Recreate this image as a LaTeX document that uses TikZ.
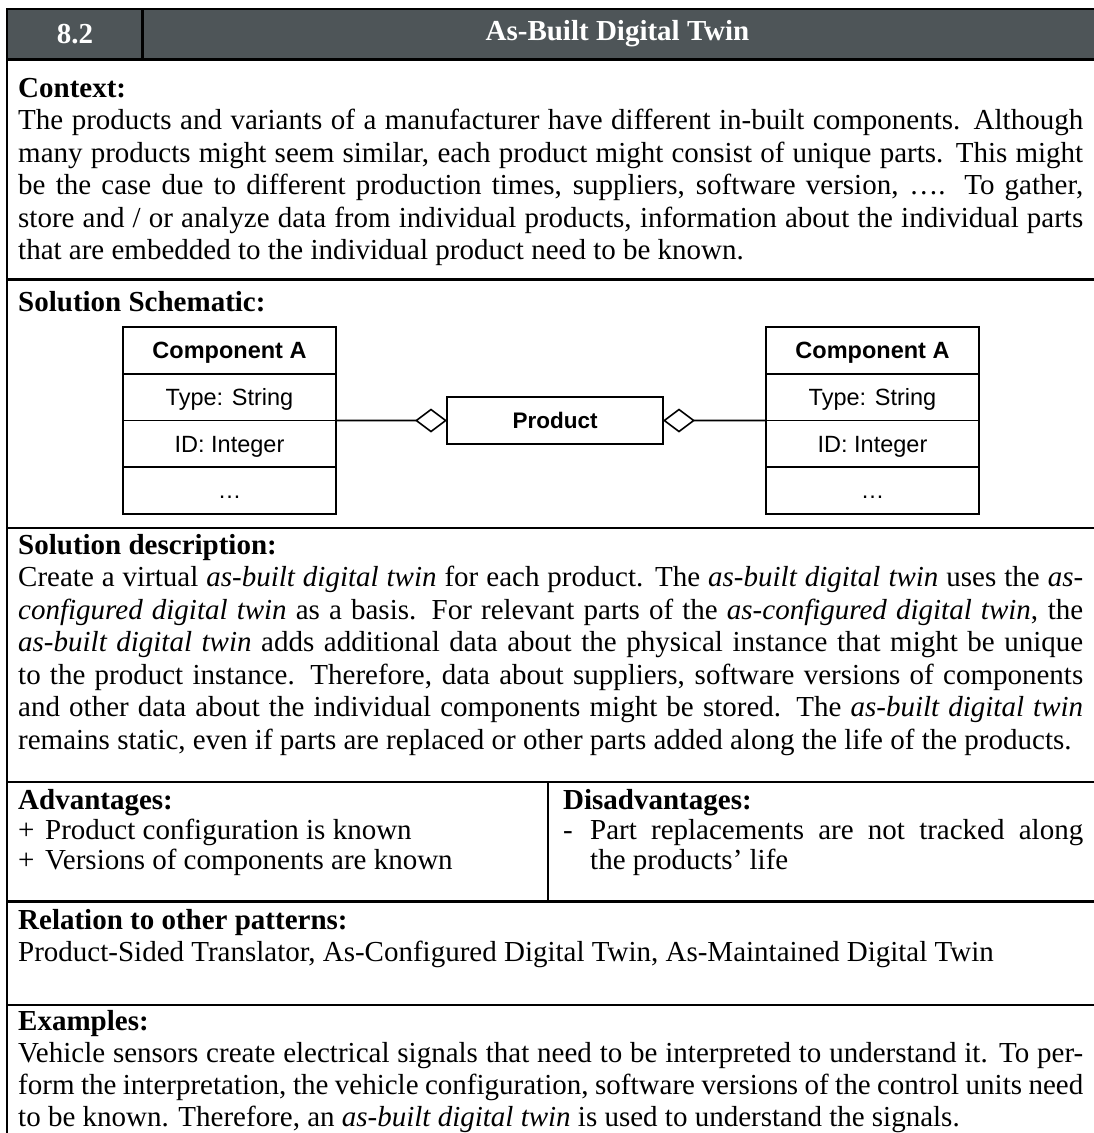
\documentclass[tikz,border=0pt]{standalone}
\usepackage{fontspec}
\setmainfont{Liberation Serif}
\newfontfamily\schemfont{Liberation Sans}
\usetikzlibrary{arrows.meta}

\definecolor{headfill}{RGB}{78,85,88}
% body text size and leading
\newcommand\bodysize{\fontsize{29pt}{32.5pt}\selectfont}
% one fully justified line of a paragraph
\newcommand\jl[1]{\makebox[\linewidth][s]{#1}\par}

\begin{document}
\begin{tikzpicture}[x=1pt,y=-1pt,
  rule/.style={line width=2.5pt, black},
  sect/.style={anchor=base west, inner sep=0pt},
  headtxt/.style={inner sep=0pt, text=white, font=\bodysize\bfseries},
  umlrow/.style={draw, line width=1.6pt, outer sep=0pt, minimum width=213pt,
    minimum height=46.75pt, inner sep=0pt, text height=16.5pt, text depth=0pt,
    font=\schemfont\fontsize{23.5pt}{27pt}\selectfont},
  umlhead/.style={umlrow, font=\schemfont\bfseries\fontsize{23.5pt}{27pt}\selectfont},
  umlbox/.style={draw, line width=1.6pt, outer sep=0pt, minimum width=216pt,
    minimum height=47pt, inner sep=0pt, text height=16pt, text depth=0pt,
    font=\schemfont\bfseries\fontsize{22.5pt}{26pt}\selectfont},
  aggr/.style={line width=1.6pt, -{Diamond[open, length=32pt, width=24pt]}}]

\useasboundingbox (0,0) rectangle (1094,1133);
\clip (0,0) rectangle (1094,1133);

% ---- header band and table rules ----
\fill[headfill] (7,9) rectangle (1100,59.5);
\draw[rule] (7,1140) -- (7,9) -- (1100,9);
\draw[rule, line width=3pt] (7,59.5) -- (1100,59.5);
\draw[rule] (142.5,9) -- (142.5,59.5);
\draw[rule] (7,279.5) -- (1100,279.5);
\draw[rule] (7,528) -- (1100,528);
\draw[rule] (7,782) -- (1100,782);
\draw[rule] (7,901.5) -- (1100,901.5);
\draw[rule] (548,782) -- (548,901.5);
\draw[rule] (7,1005) -- (1100,1005);

\node[headtxt] (num) at (75,34) {8.2};
\node[headtxt] (title) at (617.5,34) {As-Built Digital Twin};

% ---- context ----
\node[sect] (context) at (18,97) {\parbox[t]{1065pt}{\bodysize
  \textbf{Context:}\par
  \jl{The products and variants of a manufacturer have different in-built components. Although}
  \jl{many products might seem similar, each product might consist of unique parts. This might}
  \jl{be the case due to different production times, suppliers, software version, …. To gather,}
  \jl{store and / or analyze data from individual products, information about the individual parts}
  that are embedded to the individual product need to be known.\par}};

% ---- solution schematic ----
\node[sect] (schem) at (18,311) {\parbox[t]{1065pt}{\bodysize\textbf{Solution Schematic:}}};

\node[umlhead] (L1) at (229.5,350.4) {Component A};
\node[umlrow, anchor=north] (L2) at (L1.south) {Type: String};
\node[umlrow, anchor=north] (L3) at (L2.south) {ID: Integer};
\node[umlrow, anchor=north] (L4) at (L3.south) {…};

\node[umlhead] (R1) at (872.5,350.4) {Component A};
\node[umlrow, anchor=north] (R2) at (R1.south) {Type: String};
\node[umlrow, anchor=north] (R3) at (R2.south) {ID: Integer};
\node[umlrow, anchor=north] (R4) at (R3.south) {…};

\node[umlbox] (prod) at (555,420.5) {Product};

\draw[aggr] (L2.south east) -- (prod.west);
\draw[aggr] (R2.south west) -- (prod.east);

% ---- solution description ----
\node[sect] (desc) at (18,554) {\parbox[t]{1065pt}{\bodysize
  \textbf{Solution description:}\par
  \jl{Create a virtual \textit{as-built digital twin} for each product. The \textit{as-built digital twin} uses the \textit{as-}}
  \jl{\textit{configured digital twin} as a basis. For relevant parts of the \textit{as-configured digital twin}, the}
  \jl{\textit{as-built digital twin} adds additional data about the physical instance that might be unique}
  \jl{to the product instance. Therefore, data about suppliers, software versions of components}
  \jl{and other data about the individual components might be stored. The \textit{as-built digital twin}}
  remains static, even if parts are replaced or other parts added along the life of the products.\par}};

% ---- advantages / disadvantages ----
\node[sect] (adv) at (18,809) {\parbox[t]{520pt}{\fontsize{29pt}{30pt}\selectfont
  \textbf{Advantages:}\par
  \makebox[27pt][l]{+}Product configuration is known\par
  \makebox[27pt][l]{+}Versions of components are known\par}};
\node[sect] (disadv) at (563,809) {\parbox[t]{520pt}{\fontsize{29pt}{30pt}\selectfont
  \textbf{Disadvantages:}\par
  \makebox[27pt][l]{-}\makebox[493pt][s]{Part replacements are not tracked along}\par
  \hspace*{27pt}the products’ life\par}};

% ---- relations ----
\node[sect] (rel) at (18,929) {\parbox[t]{1065pt}{\bodysize
  \textbf{Relation to other patterns:}\par
  Product-Sided Translator, As-Configured Digital Twin, As-Maintained Digital Twin\par}};

% ---- examples ----
\node[sect] (ex) at (18,1030) {\parbox[t]{1065pt}{\fontsize{29pt}{32pt}\selectfont
  \textbf{Examples:}\par
  \jl{Vehicle sensors create electrical signals that need to be interpreted to understand it. To per-}
  \jl{form the interpretation, the vehicle configuration, software versions of the control units need}
  to be known. Therefore, an \textit{as-built digital twin} is used to understand the signals.\par}};

\end{tikzpicture}
\end{document}
